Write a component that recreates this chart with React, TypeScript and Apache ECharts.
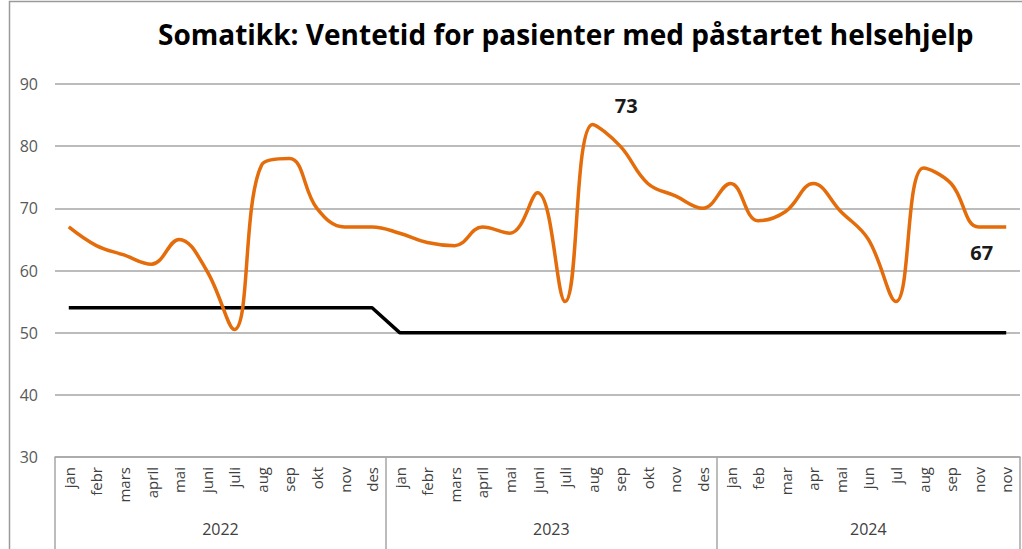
import React, { useEffect, useRef } from 'react';
import * as echarts from 'echarts';

const months2022 = ['jan', 'febr', 'mars', 'april', 'mai', 'juni', 'juli', 'aug', 'sep', 'okt', 'nov', 'des'];
const months2023 = ['jan', 'febr', 'mars', 'april', 'mai', 'juni', 'juli', 'aug', 'sep', 'okt', 'nov', 'des'];
const months2024 = ['jan', 'feb', 'mar', 'apr', 'mai', 'jun', 'jul', 'aug', 'sep', 'nov', 'nov'];
const yearLabels = ['2022', '2023', '2024'];

const ventetid2022 = [67, 64, 62.5, 61, 65, 60, 50.5, 77, 78, 70, 67, 67];
const ventetid2023 = [66, 64.5, 64, 67, 66, 72.5, 55, 83.5, 80, 74, 72, 70];
const ventetid2024 = [74, 68, 69.5, 74, 69.5, 65, 55, 76.5, 74, 67, 67];

const maal2022 = [54, 54, 54, 54, 54, 54, 54, 54, 54, 54, 54, 54];
const maal2023 = [50, 50, 50, 50, 50, 50, 50, 50, 50, 50, 50, 50];
const maal2024 = [50, 50, 50, 50, 50, 50, 50, 50, 50, 50, 50];

// annotation texts placed at data indices
const annotations = [
  { index: 20, text: '73', pos: 'top', offset: [6, -26] },
  { index: 33, text: '67', pos: 'bottom', offset: [3, 11] },
];

const title = 'Somatikk: Ventetid for pasienter med påstartet helsehjelp';

export default function App() {
  const ref = useRef<HTMLDivElement>(null);
  useEffect(() => {
    document.body.style.margin = '0';
    const chart = echarts.init(ref.current!, null, { renderer: 'svg' });
    const categories = [...months2022, ...months2023, ...months2024];
    const yearSizes = [months2022.length, months2023.length, months2024.length];
    const bounds = [0];
    yearSizes.forEach((s) => bounds.push(bounds[bounds.length - 1] + s));
    const centers = yearSizes.map((s, i) => bounds[i] + s / 2);
    const ventetid = [...ventetid2022, ...ventetid2023, ...ventetid2024];
    const maal = [...maal2022, ...maal2023, ...maal2024];
    const vData = ventetid.map((v, i) => {
      const a = annotations.find((x) => x.index === i);
      if (!a) return v;
      return {
        value: v,
        label: {
          show: true,
          formatter: a.text,
          position: a.pos,
          offset: a.offset,
          fontFamily: 'Open Sans',
          fontWeight: 'bold',
          fontSize: 20,
          color: '#1a1a1a',
        },
      };
    });
    const font = 'Open Sans';
    chart.setOption({
      animation: false,
      backgroundColor: '#ffffff',
      title: {
        text: title,
        left: 153,
        top: 15,
        textStyle: { fontFamily: font, fontWeight: 'bold', fontSize: 28, color: '#000000' },
      },
      graphic: [
        {
          type: 'rect',
          shape: { x: 9.5, y: 1.5, width: 1200, height: 700 },
          style: { fill: 'none', stroke: '#9a9a9a', lineWidth: 1.5 },
          silent: true,
        },
      ],
      grid: { left: 55, right: 2, top: 84, bottom: 92, containLabel: false },
      xAxis: [
        {
          type: 'category',
          data: categories,
          position: 'bottom',
          boundaryGap: true,
          axisLine: { show: true, lineStyle: { color: '#a6a6a6', width: 1.5 } },
          axisTick: { show: false },
          axisLabel: {
            interval: 0,
            rotate: 90,
            margin: 10,
            fontFamily: font,
            fontSize: 15,
            color: '#404040',
          },
          splitLine: { show: false },
        },
        {
          type: 'value',
          min: 0,
          max: bounds[bounds.length - 1],
          position: 'bottom',
          axisLine: { show: false },
          splitLine: { show: false },
          axisTick: {
            show: true,
            customValues: bounds,
            length: 92,
            lineStyle: { color: '#a6a6a6', width: 1.5 },
          },
          axisLabel: {
            customValues: centers,
            formatter: (v: number) => {
              const i = centers.findIndex((c) => Math.abs(c - v) < 1e-6);
              return i >= 0 ? yearLabels[i] : '';
            },
            margin: 64,
            fontFamily: font,
            fontSize: 16,
            color: '#404040',
          },
        },
      ],
      yAxis: {
        type: 'value',
        min: 30,
        max: 90,
        interval: 10,
        axisLine: { show: false },
        axisTick: { show: false },
        axisLabel: { margin: 17, fontFamily: font, fontSize: 16, color: '#595959' },
        splitLine: { show: true, lineStyle: { color: '#a6a6a6', width: 1.5 } },
      },
      series: [
        {
          name: 'Ventetid',
          type: 'line',
          xAxisIndex: 0,
          data: vData,
          smooth: 0.4,
          symbol: 'circle',
          symbolSize: 0,
          showSymbol: true,
          lineStyle: { color: '#E46C0A', width: 3.5 },
          itemStyle: { color: '#E46C0A' },
          z: 3,
        },
        {
          name: 'Mål',
          type: 'line',
          xAxisIndex: 0,
          data: maal,
          smooth: false,
          symbol: 'none',
          lineStyle: { color: '#000000', width: 3.5 },
          z: 2,
        },
      ],
    });
    return () => chart.dispose();
  }, []);
  return <div ref={ref} style={{ width: 1022, height: 549, position: 'absolute', left: 0, top: 0 }} />;
}
